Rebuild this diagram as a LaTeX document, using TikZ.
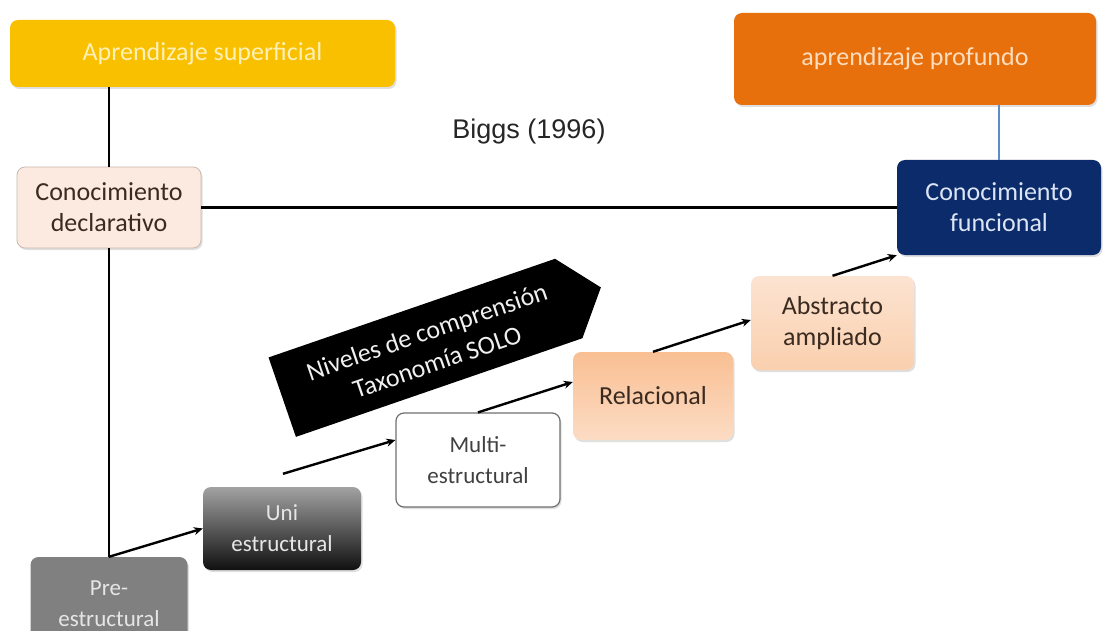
\documentclass[tikz,border=0pt]{standalone}
\usepackage{fontspec}
\setmainfont{Carlito}
\newfontfamily\arialf{Liberation Sans}
\usetikzlibrary{shadows,arrows.meta,calc}
\definecolor{supY}{HTML}{F9C000}
\definecolor{supT}{HTML}{FFF0B8}
\definecolor{profO}{HTML}{E8700C}
\definecolor{profT}{HTML}{FDDDBE}
\definecolor{declF}{HTML}{FCEAE0}
\definecolor{declB}{HTML}{C9B9AF}
\definecolor{darkT}{HTML}{3A2A20}
\definecolor{navy}{HTML}{0C2B6B}
\definecolor{navyT}{HTML}{DCE5F5}
\definecolor{preG}{HTML}{808080}
\definecolor{lightT}{HTML}{E6E6E6}
\definecolor{uniTop}{HTML}{A2A2A2}
\definecolor{uniBot}{HTML}{101010}
\definecolor{multiB}{HTML}{707070}
\definecolor{multiT}{HTML}{404040}
\definecolor{relTop}{HTML}{F9BF93}
\definecolor{relBot}{HTML}{FCDCC4}
\definecolor{absTop}{HTML}{FCE3D1}
\definecolor{absBot}{HTML}{FAD0AE}
\definecolor{blueL}{HTML}{5B8DC8}
\begin{document}
\begin{tikzpicture}[x=1pt,y=-1pt,
  box/.style={rounded corners=8pt, align=center, inner sep=0pt,
    drop shadow={opacity=0.25,shadow xshift=1.5pt,shadow yshift=-2pt}},
  big/.style={font=\fontsize{26}{31}\selectfont},
  mid/.style={font=\fontsize{23}{31}\selectfont},
  conn/.style={line width=2.6pt, black},
  arr/.style={line width=2.4pt, black, -{Stealth[length=9pt,width=8pt]}}]
\useasboundingbox (0,0) rectangle (1103,631);
\clip (0,0) rectangle (1103,631);

% top boxes
\node[box, fill=supY, text=supT, minimum width=385pt, minimum height=67pt,
  font=\fontsize{26}{30}\selectfont] (sup) at (202.5,53.5) {Aprendizaje superficial};
\node[box, fill=profO, text=profT, minimum width=362pt, minimum height=92pt,
  font=\fontsize{26}{30}\selectfont] (prof) at (915,59) {aprendizaje profundo};

\node[font=\arialf\fontsize{27}{30}\selectfont, text=black!85] (biggs) at (529,132) {Biggs (1996)};

% knowledge boxes
\node[box, big, fill=declF, draw=declB, line width=0.8pt, text=darkT,
  minimum width=184pt, minimum height=81pt] (decl) at (109,207.5) {Conocimiento\\declarativo};
\node[box, big, fill=navy, text=navyT, minimum width=204pt, minimum height=95pt]
  (func) at (999,207.5) {Conocimiento\\funcional};

% SOLO levels
\node[box, mid, fill=preG, text=lightT, minimum width=157pt, minimum height=94pt]
  (pre) at (109,604) {Pre-\\estructural};
\node[box, mid, top color=uniTop, bottom color=uniBot, text=lightT,
  minimum width=158pt, minimum height=83pt] (uni) at (282,528.5) {Uni\\estructural};
\node[box, mid, fill=white, draw=multiB, line width=1.2pt, text=multiT,
  minimum width=164pt, minimum height=94pt] (multi) at (478,460) {Multi-\\estructural};
\node[box, big, top color=relTop, bottom color=relBot, text=darkT,
  minimum width=160pt, minimum height=88pt] (rel) at (653,396) {Relacional};
\node[box, big, top color=absTop, bottom color=absBot, text=darkT,
  minimum width=163pt, minimum height=94pt] (abs) at (832.5,323) {Abstracto\\ampliado};

% banner arrow
\begin{scope}[shift={(425,348)}, rotate=19]
  \fill[black] (-151,-42) -- (152,-42) -- (186,0) -- (152,42) -- (-151,42) -- cycle;
  \node[rotate=19, align=center, text=white!94!black, font=\fontsize{26}{32}\selectfont] (banner) at (7,1)
    {Niveles de comprensión\\Taxonomía SOLO};
\end{scope}

% connectors
\draw[conn] (decl.north |- sup.south) -- (decl.north);
\draw[conn] (decl.south) -- (pre.north);
\draw[conn] (decl.east) -- (func.west);
\draw[line width=1.8pt, blueL] (func.north |- prof.south) -- (func.north);

\draw[arr] (pre.north) -- (uni.west);
\coordinate (uniout) at ($(uni.north)+(1,-13)$);
\draw[arr] (uniout) -- ($(multi.west)+(0,-20)$);
\draw[arr] (multi.north) -- ($(rel.west)+(0,-14)$);
\draw[arr] (rel.north) -- ($(abs.west)+(0,-3)$);
\draw[arr] (abs.north) -- (func.south west);
\end{tikzpicture}
\end{document}
